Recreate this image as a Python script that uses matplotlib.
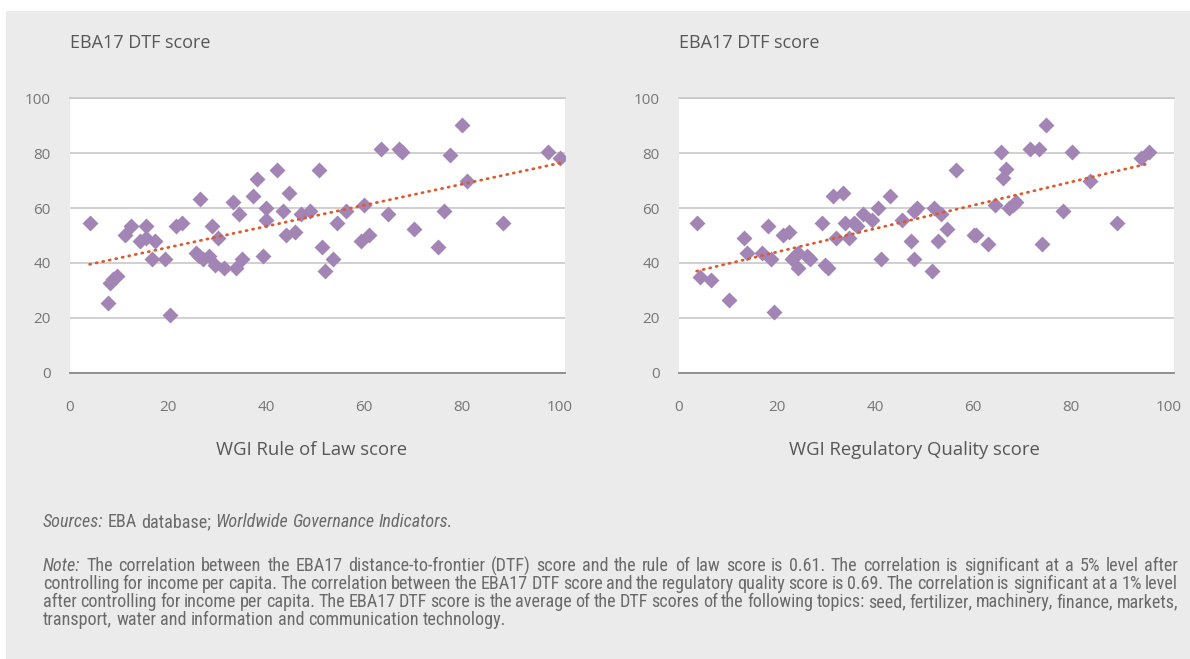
import matplotlib
matplotlib.use("Agg")
import matplotlib.pyplot as plt
import numpy as np
from matplotlib import font_manager
from matplotlib.patches import Rectangle

# values
rule_of_law_x = [4.0, 7.7, 8.2, 8.8, 9.5, 11.3, 12.5, 14.3, 15.5, 15.5, 16.7, 17.4, 19.3, 20.4,
                 21.6, 22.9, 25.8, 26.5, 27.1, 28.3, 26.4, 28.9, 30.1, 29.5, 31.4, 33.2, 33.8,
                 34.4, 35.0, 37.4, 38.1, 39.3, 39.9, 39.9, 42.2, 43.5, 44.1, 44.7, 45.9, 47.1,
                 49.0, 50.8, 51.4, 52.0, 53.7, 54.4, 56.3, 59.3, 59.9, 61.1, 63.5, 64.8, 67.1,
                 67.8, 70.2, 75.0, 76.3, 77.6, 79.9, 81.1, 88.4, 97.5, 100.0]
rule_of_law_y = [54.6, 25.3, 32.8, 34.0, 35.2, 50.2, 53.5, 48.0, 53.5, 49.2, 41.6, 48.0, 41.6, 20.9,
                 53.5, 54.6, 43.7, 63.2, 41.6, 42.6, 42.6, 53.5, 49.2, 39.4, 38.3, 62.1, 38.3,
                 57.8, 41.6, 64.3, 70.7, 42.6, 59.9, 55.7, 74.0, 58.9, 50.2, 65.4, 51.3, 57.8,
                 58.9, 74.0, 45.9, 37.2, 41.6, 54.6, 58.9, 48.0, 61.0, 50.2, 81.7, 57.8, 81.7,
                 80.6, 52.4, 45.9, 58.9, 79.5, 90.4, 69.7, 54.6, 80.6, 78.4]

reg_quality_x = [3.6, 4.2, 6.6, 10.3, 13.3, 13.9, 17.0, 18.1, 18.8, 19.4, 21.2, 22.4, 23.0, 23.7,
                 24.3, 24.3, 26.1, 26.7, 29.1, 29.7, 30.3, 31.5, 32.1, 33.4, 33.9, 34.6, 35.8,
                 36.4, 37.6, 39.4, 40.7, 41.2, 43.1, 45.5, 47.3, 47.9, 47.9, 48.6, 51.6, 52.1,
                 52.8, 53.4, 54.6, 56.5, 60.1, 60.7, 63.1, 64.4, 65.6, 66.2, 66.8, 67.4, 68.1,
                 68.7, 71.7, 73.5, 74.1, 74.8, 78.4, 80.2, 83.8, 89.3, 94.2, 96.0]
reg_quality_y = [54.6, 35.0, 33.9, 26.5, 49.2, 43.7, 43.7, 53.5, 41.6, 22.1, 50.2, 51.3, 41.6, 42.6,
                 43.7, 38.3, 42.6, 41.6, 54.6, 39.4, 38.3, 64.3, 49.2, 65.4, 54.6, 49.2, 54.6,
                 53.5, 57.8, 55.7, 59.9, 41.6, 64.3, 55.7, 48.0, 58.9, 41.6, 59.9, 37.2, 59.9,
                 48.0, 57.8, 52.4, 74.0, 50.2, 50.2, 46.9, 61.0, 80.6, 70.8, 74.1, 59.9, 61.0,
                 62.1, 81.7, 81.7, 46.9, 90.4, 58.9, 80.6, 69.7, 54.6, 78.4, 80.6]

ticks = [0, 20, 40, 60, 80, 100]
y_title = "EBA17 DTF score"
x_titles = ["WGI Rule of Law score", "WGI Regulatory Quality score"]

sources_words = [("Sources:", "italic"), ("EBA", "normal"), ("database;", "normal"),
                 ("Worldwide", "italic"), ("Governance", "italic"), ("Indicators.", "italic")]
note_lines = [
    "Note: The correlation between the EBA17 distance-to-frontier (DTF) score and the rule of law "
    "score is 0.61. The correlation is significant at a 5% level after",
    "controlling for income per capita. The correlation between the EBA17 DTF score and the "
    "regulatory quality score is 0.69. The correlation is significant at a 1% level",
    "after controlling for income per capita. The EBA17 DTF score is the average of the DTF scores "
    "of the following topics: seed, fertilizer, machinery, finance, markets,",
    "transport, water and information and communication technology.",
]

W, H = 1190, 659
BG = "#ebebeb"
PURPLE = "#a285b5"
TREND = "#dd5a2c"

installed = {f.name for f in font_manager.fontManager.ttflist}
main_font = "Open Sans" if "Open Sans" in installed else "DejaVu Sans"
note_font = next((f for f in ["Liberation Sans Narrow", "Roboto Condensed", "Roboto",
                              "Liberation Sans"] if f in installed), "DejaVu Sans")
plt.rcParams["font.family"] = [main_font, "DejaVu Sans"]

fig = plt.figure(figsize=(W / 100, H / 100), dpi=100, facecolor="white")
fig.patches.append(Rectangle((6 / W, 0), 1 - 6 / W, 1 - 11 / H, transform=fig.transFigure,
                             facecolor=BG, edgecolor="none", zorder=-10))

# (axes left edge px, x data, y data, x title, x title centre px)
panels = [
    (70, rule_of_law_x, rule_of_law_y, x_titles[0], 312),
    (679, reg_quality_x, reg_quality_y, x_titles[1], 914),
]
for left_px, xs, ys, xlabel, label_px in panels:
    ax = fig.add_axes([left_px / W, (H - 372.7) / H, 495 / W, 274.4 / H])
    ax.set_facecolor("white")
    ax.scatter(xs, ys, marker="D", s=66, color=PURPLE, linewidths=0, zorder=3)

    # linear trend line fitted to the points
    slope, intercept = np.polyfit(xs, ys, 1)
    tx = np.array([min(xs), max(xs)])
    ax.plot(tx, slope * tx + intercept, color=TREND, lw=2.0, ls=(0, (0.4, 2.0)),
            dash_capstyle="round", zorder=4)

    ax.set_xlim(0, 101)
    ax.set_ylim(0, 100)
    ax.set_xticks(ticks)
    ax.set_yticks(ticks)
    ax.grid(axis="y", color="#c4c4c4", lw=1.1, zorder=0)
    ax.set_axisbelow(True)
    for side in ["left", "right"]:
        ax.spines[side].set_visible(False)
    ax.spines["top"].set_color("#c4c4c4")
    ax.spines["top"].set_linewidth(1.1)
    ax.spines["bottom"].set_color("#8a8a8a")
    ax.spines["bottom"].set_linewidth(1.3)
    ax.tick_params(length=0, labelsize=11, labelcolor="#767676")
    ax.tick_params(axis="y", pad=14)
    ax.tick_params(axis="x", pad=20)
    ax.set_xlabel(xlabel, fontsize=13.3, color="#575757", va="center")
    ax.xaxis.set_label_coords((label_px - left_px) / 495, -(450 - 372.7) / 274.4)
    fig.text(left_px / W, 1 - 43 / H, y_title, fontsize=13, color="#575757", va="center")

# footnotes, the note paragraph is justified like the original
renderer = fig.canvas.get_renderer()
NOTE_COLOR = "#6a6a6a"


def measure(word, size, style="normal"):
    t = fig.text(0, 0, word, fontsize=size, style=style, family=[note_font, "DejaVu Sans"])
    w = t.get_window_extent(renderer).width
    t.remove()
    return w


# size the note font so the sources line is as wide as in the original (about 408 px)
probe_size = 10.0
src_width = sum(measure(w, probe_size, s) for w, s in sources_words)
src_width += (len(sources_words) - 1) * (measure("x x", probe_size) - measure("xx", probe_size))
note_size = probe_size * 408 / src_width


def place_words(words, y_px, x0, x1=None):
    texts = []
    for word, style in words:
        t = fig.text(0, 1 - y_px / H, word, fontsize=note_size, style=style, color=NOTE_COLOR,
                     family=[note_font, "DejaVu Sans"], va="center", ha="left")
        texts.append(t)
    widths = [t.get_window_extent(renderer).width for t in texts]
    space = measure("x x", note_size) - measure("xx", note_size)
    if x1 is not None and len(words) > 1:
        space = (x1 - x0 - sum(widths)) / (len(words) - 1)
    x = x0
    for t, w in zip(texts, widths):
        t.set_x(x / W)
        x += w + space


place_words(sources_words, 522, 43)
for i, line in enumerate(note_lines):
    words = [(w, "italic" if w == "Note:" else "normal") for w in line.split(" ")]
    last = i == len(note_lines) - 1
    place_words(words, 566 + 18 * i, 43, None if last else 1178)

fig.savefig("out.png", dpi=100, facecolor="white")
